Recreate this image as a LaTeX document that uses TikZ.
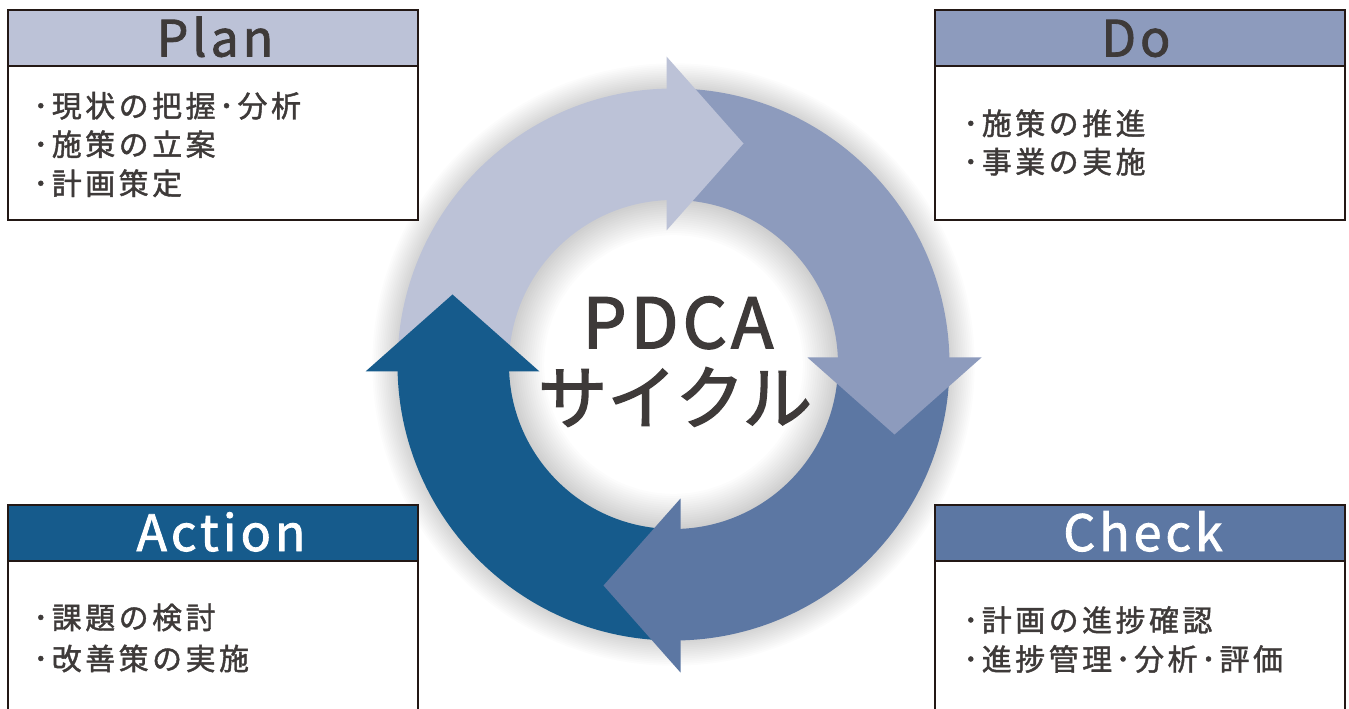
\documentclass[tikz,border=0pt]{standalone}
\usepackage{fontspec}
\setmainfont{Noto Sans CJK JP}
\newfontfamily\hdrfont[LetterSpace=8,FakeBold=1.7]{Noto Sans CJK JP}
\newfontfamily\bodyfont[LetterSpace=12,FakeBold=1.4]{Noto Sans CJK JP}
\newfontfamily\pdcafont[LetterSpace=6,FakeBold=2.2]{Noto Sans CJK JP}
\newfontfamily\kanafont[FakeBold=2.2]{Noto Sans CJK JP}
\definecolor{planc}{RGB}{188,194,215}
\definecolor{doc}{RGB}{141,155,189}
\definecolor{checkc}{RGB}{92,119,163}
\definecolor{actc}{RGB}{22,91,140}
\definecolor{txtc}{RGB}{62,58,57}
\definecolor{brdc}{RGB}{35,24,21}
\tikzset{
  boxline/.style={draw=brdc, line width=1.4pt},
  hdrtext/.style={font=\hdrfont\fontsize{28.5pt}{30pt}\selectfont, inner sep=0pt, anchor=base},
  bodytext/.style={font=\bodyfont\fontsize{17pt}{19pt}\selectfont, text=txtc, inner sep=0pt, anchor=west},
  bigtext/.style={font=\pdcafont\fontsize{39.5pt}{42pt}\selectfont, text=txtc, inner sep=0pt},
  kanatext/.style={font=\kanafont\fontsize{39.5pt}{42pt}\selectfont, text=txtc, inner sep=0pt},
}
\begin{document}
\begin{tikzpicture}[x=0.02cm,y=-0.02cm]
\useasboundingbox (0,0) rectangle (1349,709);
\clip (0,0) rectangle (1349,709);
\fill[white] (0,0) rectangle (1349,709);
\coordinate (c) at (673.5,364.5);
% outer soft shadow
\foreach \i in {1,...,14} {
  \fill[black,opacity=0.012,even odd rule] (c) circle ({276+\i*1.8}) (c) circle (268);
}
% inner hole shadow
\foreach \i in {1,...,16} {
  \fill[black,opacity=0.012,even odd rule] (c) circle (170) (c) circle ({164.5-\i*2.2});
}
% ring bodies (boundaries hidden under the arrowheads)
\begin{scope}
  \clip (300,0) rectangle (670.5,367.5);
  \fill[planc,even odd rule] (c) circle (276) (c) circle (164.5);
\end{scope}
\begin{scope}
  \clip (670.5,0) rectangle (1000,361.5);
  \fill[doc,even odd rule] (c) circle (276) (c) circle (164.5);
\end{scope}
\begin{scope}
  \clip (676.5,361.5) rectangle (1000,700);
  \fill[checkc,even odd rule] (c) circle (276) (c) circle (164.5);
\end{scope}
\begin{scope}
  \clip (300,367.5) rectangle (676.5,700);
  \fill[actc,even odd rule] (c) circle (276) (c) circle (164.5);
\end{scope}
% arrowheads
\fill[planc] (666.5,56.5) -- (743.5,143.5) -- (666.5,230.5) -- cycle;
\fill[doc] (807.5,357.5) -- (894.5,434.5) -- (981.5,357.5) -- cycle;
\fill[checkc] (680.5,498.5) -- (603.5,585.5) -- (680.5,672.5) -- cycle;
\fill[actc] (365.5,371.5) -- (452.5,294.5) -- (539.5,371.5) -- cycle;
% centre text
\node[bigtext] (pdca) at (678,322.8) {PDCA};
\node[kanatext] (cycle) at (675,397) {サイクル};
% Plan box
\fill[white] (8,10) rectangle (418,220);
\fill[planc] (8,10) rectangle (418,66);
\draw[boxline] (8,66) -- (418,66);
\draw[boxline] (8,10) rectangle (418,220);
\node[hdrtext, text=txtc] (plan) at (215,56.5) {Plan};
\node[bodytext] (p1) at (33,105.8) {･現状の把握･分析};
\node[bodytext] (p2) at (33,144.2) {･施策の立案};
\node[bodytext] (p3) at (33,183.3) {･計画策定};
% Do box
\fill[white] (935,10) rectangle (1345,220);
\fill[doc] (935,10) rectangle (1345,66);
\draw[boxline] (935,66) -- (1345,66);
\draw[boxline] (935,10) rectangle (1345,220);
\node[hdrtext, text=txtc] (do) at (1136,56.5) {Do};
\node[bodytext] (d1) at (963,123.3) {･施策の推進};
\node[bodytext] (d2) at (963,161.7) {･事業の実施};
% Action box
\fill[white] (8,505) rectangle (418,730);
\fill[actc] (8,505) rectangle (418,561);
\draw[boxline] (8,561) -- (418,561);
\draw[boxline] (8,505) rectangle (418,730);
\node[hdrtext, text=white] (action) at (221,551) {Action};
\node[bodytext] (a1) at (33,617.5) {･課題の検討};
\node[bodytext] (a2) at (33,658.5) {･改善策の実施};
% Check box
\fill[white] (935,505) rectangle (1345,730);
\fill[checkc] (935,505) rectangle (1345,561);
\draw[boxline] (935,561) -- (1345,561);
\draw[boxline] (935,505) rectangle (1345,730);
\node[hdrtext, text=white] (check) at (1143,551) {Check};
\node[bodytext] (c1) at (963,620) {･計画の進捗確認};
\node[bodytext] (c2) at (963,659) {･進捗管理･分析･評価};
\end{tikzpicture}
\end{document}
